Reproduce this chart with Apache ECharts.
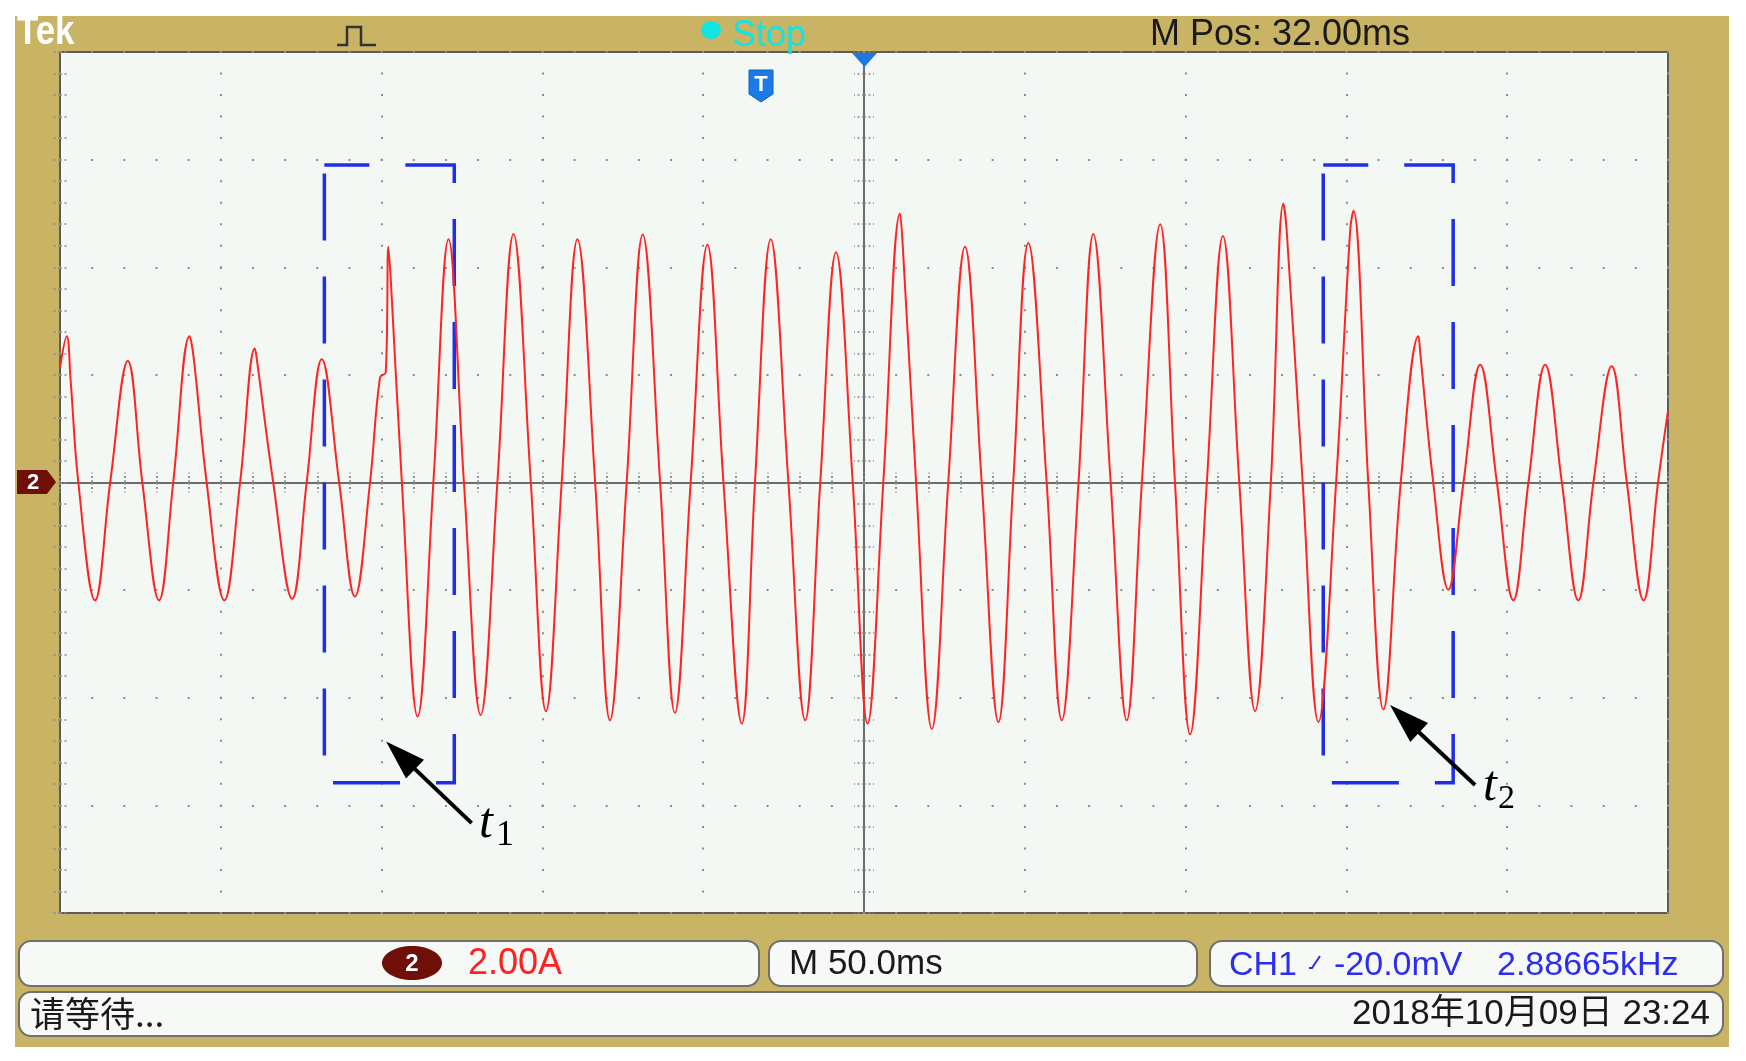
<!DOCTYPE html>
<html>
<head>
<meta charset="utf-8">
<script src="https://cdn.jsdelivr.net/npm/echarts@6.0.0/dist/echarts.min.js"></script>
<style>
html, body { margin: 0; padding: 0; background: #fff; }
#main { width: 1746px; height: 1061px; }
</style>
</head>
<body>
<div id="main"></div>
<script>
// CH2 current trace (x: ms from left edge, 50 ms/div; y: A, 2 A/div)
var timeMs = [0, 2.1, 3.3, 5.7, 10.9, 15.6, 21.1, 25.6, 30.8, 35.2,
    40.3, 41.6, 45.6, 51.1, 56.0, 60.6, 61.4, 66.3, 72.2, 76.7,
    81.4, 86.8, 91.7, 96.4, 99.5, 101.3, 102.1, 102.9, 106.3, 111.2,
    116.1, 120.8, 125.6, 130.8, 136.0, 141.0, 146.4, 151.1, 156.0, 160.9,
    166.4, 171.0, 176.2, 181.2, 186.6, 191.2, 196.1, 201.3, 206.3, 212.0,
    216.1, 221.0, 226.5, 231.7, 236.4, 241.3, 246.5, 251.1, 256.0, 261.2,
    262.0, 266.2, 271.1, 276.2, 281.4, 286.6, 291.8, 296.4, 301.1, 306.8,
    311.5, 316.7, 321.3, 326.7, 331.7, 336.4, 342.1, 346.7, 351.4, 356.6,
    361.6, 366.7, 371.6, 376.5, 380.4, 381.4, 386.4, 391.3, 396.8, 401.2,
    402.2, 406.8, 411.5, 416.9, 422.4, 423.0, 427.0, 431.7, 436.4, 441.6,
    446.8, 451.9, 456.6, 461.8, 467.0, 472.1, 476.8, 482.5, 487.2, 492.4,
    496.9, 500.0];
var currentA = [2.13, 2.72, 1.90, 0, -2.19, 0, 2.26, 0, -2.19, 0,
    2.72, 2.30, 0, -2.19, 0, 2.49, 2.20, 0, -2.16, 0,
    2.29, 0, -2.12, 0, 1.95, 2.05, 4.38, 3.72, 0, -4.35,
    0, 4.52, 0, -4.32, 0, 4.62, 0, -4.25, 0, 4.52,
    0, -4.42, 0, 4.61, 0, -4.28, 0, 4.42, 0, -4.48,
    0, 4.52, 0, -4.42, 0, 4.28, 0, -4.48, 0, 5.00,
    4.45, 0, -4.58, 0, 4.38, 0, -4.45, 0, 4.45, 0,
    -4.42, 0, 4.62, 0, -4.42, 0, 4.80, 0, -4.68, 0,
    4.58, 0, -4.25, 0, 5.18, 4.71, 0, -4.45, 0, 4.71,
    5.05, 0, -4.22, 0, 2.72, 2.39, 0, -1.99, 0, 2.19,
    0, -2.19, 0, 2.19, 0, -2.19, 0, 2.16, 0, -2.19,
    0, 1.33];

// dashed boxes around t1 / t2 (ms range, A range)
var boxTimeMs = [[82.2, 122.6], [392.8, 433.2]];
var boxCurrentA = [5.9, -5.58];
// arrows: tail -> head (ms, A)
var arrowTail = [[128.0, -6.33], [440.0, -5.62]];
var arrowHead = [[105.9, -5.07], [418.1, -4.39]];

var traceData = timeMs.map(function (t, i) { return [t, currentA[i]]; });

var myChart = echarts.init(document.getElementById('main'));

var dotColor = '#8d8d8d';
var sansFont = "'Liberation Sans', Arial, 'Noto Sans CJK SC', sans-serif";
var tickStyle = { color: '#8a8a8a', width: 1.5, type: [2, 2.5] };

function gridBox(extra) {
    var g = { left: 60, top: 52, width: 1608, height: 861, containLabel: false, outerBoundsMode: 'none' };
    for (var k in extra) g[k] = extra[k];
    return g;
}

function borderAxis(gridIndex, pos, min, max, interval, split) {
    return {
        type: 'value', gridIndex: gridIndex, position: pos,
        min: min, max: max, interval: interval,
        axisLine: { show: false },
        axisLabel: { show: false },
        axisTick: { show: true, inside: true, length: 9, lineStyle: tickStyle },
        minorTick: { show: true, splitNumber: 5, length: 9, lineStyle: tickStyle },
        splitLine: split ? { show: true, lineStyle: split } : { show: false },
        minorSplitLine: { show: false }
    };
}

function centerAxis(gridIndex, pos, min, max, interval, inside) {
    return {
        type: 'value', gridIndex: gridIndex, position: pos,
        min: min, max: max, interval: interval,
        axisLine: { show: true, onZero: true, lineStyle: { color: '#6b6b6b', width: 2 } },
        axisLabel: { show: false },
        axisTick: { show: true, inside: inside, length: 10, lineStyle: tickStyle },
        minorTick: { show: true, splitNumber: 5, length: 10, lineStyle: tickStyle },
        splitLine: { show: false }
    };
}

var option = {
    animation: false,
    backgroundColor: '#ffffff',
    grid: [
        gridBox({ show: true, backgroundColor: '#f4f8f5', borderColor: '#5c5c5c', borderWidth: 2 }),
        gridBox({}),
        gridBox({})
    ],
    xAxis: [
        borderAxis(0, 'bottom', 0, 500, 50, { color: dotColor, width: 2, type: [2, 19.525], dashOffset: 1 }),
        borderAxis(0, 'top', 0, 500, 50, null),
        centerAxis(1, 'bottom', -250, 250, 50, true),
        centerAxis(2, 'bottom', -250, 250, 50, false)
    ],
    yAxis: [
        borderAxis(0, 'left', -8, 8, 2, { color: dotColor, width: 2, type: [2, 30.16], dashOffset: 1 }),
        borderAxis(0, 'right', -8, 8, 2, null),
        centerAxis(1, 'left', -8, 8, 2, true),
        centerAxis(2, 'left', -8, 8, 2, false)
    ],
    series: [{
        type: 'line',
        xAxisIndex: 0,
        yAxisIndex: 0,
        data: traceData,
        showSymbol: false,
        smooth: 0.4,
        lineStyle: { color: '#ff2424', width: 2 },
        z: 5,
        silent: true,
        markArea: {
            silent: true,
            itemStyle: {
                color: 'rgba(0,0,0,0)',
                borderColor: '#1f2fe6',
                borderWidth: 3.5,
                borderType: [67, 36],
                borderDashOffset: 22
            },
            data: boxTimeMs.map(function (b) {
                return [{ coord: [b[0], boxCurrentA[0]] }, { coord: [b[1], boxCurrentA[1]] }];
            })
        },
        markLine: {
            silent: true,
            animation: false,
            symbol: ['none', 'triangle'],
            symbolSize: [26, 40],
            label: { show: false },
            lineStyle: { color: '#000', width: 4, type: 'solid' },
            data: arrowTail.map(function (p, i) {
                return [{ coord: p }, { coord: arrowHead[i] }];
            })
        }
    }],
    graphic: [
        // scope bezel
        { type: 'rect', z: -1, silent: true, shape: { x: 15, y: 16, width: 1714, height: 1031 },
          style: { fill: '#c9b466' } },
        // top bar
        { type: 'text', z: 100, x: 17, y: 33, scaleX: 0.87,
          style: { text: 'Tek', fill: '#ffffff', font: 'bold 40px ' + sansFont, verticalAlign: 'middle' } },
        { type: 'polyline', z: 100, shape: { points: [[337, 45], [347, 45], [347, 27], [361, 27], [361, 45], [376, 45]] },
          style: { stroke: '#333', lineWidth: 2.5, fill: null } },
        { type: 'ellipse', z: 100, shape: { cx: 711, cy: 30, rx: 10, ry: 9 }, style: { fill: '#12e4e4' } },
        { type: 'text', z: 100, x: 732, y: 36,
          style: { text: 'Stop', fill: '#12e4e4', font: '36px ' + sansFont, verticalAlign: 'middle' } },
        { type: 'text', z: 100, x: 1150, y: 35,
          style: { text: 'M Pos: 32.00ms', fill: '#1a1a1a', font: '36px ' + sansFont, verticalAlign: 'middle' } },
        // trigger markers
        { type: 'polygon', z: 100, shape: { points: [[852, 53], [877, 53], [864.5, 67]] }, style: { fill: '#1c7ae6' } },
        { type: 'polygon', z: 100, shape: { points: [[749, 70], [773, 70], [773, 94], [761, 102], [749, 94]] },
          style: { fill: '#1c7ae6', stroke: '#1560c0', lineWidth: 1 } },
        { type: 'text', z: 101, x: 761, y: 85,
          style: { text: 'T', fill: '#ffffff', font: 'bold 22px ' + sansFont, align: 'center', verticalAlign: 'middle' } },
        // channel 2 ground marker
        { type: 'polygon', z: 100, shape: { points: [[17, 470], [47, 470], [56, 482], [47, 494], [17, 494]] },
          style: { fill: '#6e1008' } },
        { type: 'text', z: 101, x: 33, y: 483,
          style: { text: '2', fill: '#ffffff', font: 'bold 22px ' + sansFont, align: 'center', verticalAlign: 'middle' } },
        // t1 / t2 labels
        { type: 'text', z: 100, x: 479, y: 824,
          style: { text: 't', fill: '#000', font: 'italic 50px "Liberation Serif", "Times New Roman", serif', verticalAlign: 'middle' } },
        { type: 'text', z: 100, x: 496, y: 836,
          style: { text: '1', fill: '#000', font: '36px "Liberation Serif", "Times New Roman", serif', verticalAlign: 'middle' } },
        { type: 'text', z: 100, x: 1483, y: 787,
          style: { text: 't', fill: '#000', font: 'italic 50px "Liberation Serif", "Times New Roman", serif', verticalAlign: 'middle' } },
        { type: 'text', z: 100, x: 1498, y: 799,
          style: { text: '2', fill: '#000', font: '34px "Liberation Serif", "Times New Roman", serif', verticalAlign: 'middle' } },
        // status boxes
        { type: 'rect', z: 100, shape: { x: 19, y: 941, width: 740, height: 45, r: 12 },
          style: { fill: '#f6f9f6', stroke: '#6f6f6f', lineWidth: 2 } },
        { type: 'rect', z: 100, shape: { x: 769, y: 941, width: 428, height: 45, r: 12 },
          style: { fill: '#f6f9f6', stroke: '#6f6f6f', lineWidth: 2 } },
        { type: 'rect', z: 100, shape: { x: 1210, y: 941, width: 513, height: 45, r: 12 },
          style: { fill: '#f6f9f6', stroke: '#6f6f6f', lineWidth: 2 } },
        { type: 'rect', z: 100, shape: { x: 19, y: 992, width: 1704, height: 44, r: 12 },
          style: { fill: '#f6f9f6', stroke: '#6f6f6f', lineWidth: 2 } },
        { type: 'ellipse', z: 101, shape: { cx: 412, cy: 963, rx: 30, ry: 17 }, style: { fill: '#6e1008' } },
        { type: 'text', z: 102, x: 412, y: 964,
          style: { text: '2', fill: '#ffffff', font: 'bold 24px ' + sansFont, align: 'center', verticalAlign: 'middle' } },
        { type: 'text', z: 101, x: 468, y: 964,
          style: { text: '2.00A', fill: '#ff2020', font: '36px ' + sansFont, verticalAlign: 'middle' } },
        { type: 'text', z: 101, x: 789, y: 964,
          style: { text: 'M 50.0ms', fill: '#1a1a1a', font: '35px ' + sansFont, verticalAlign: 'middle' } },
        { type: 'text', z: 101, x: 1229, y: 966,
          style: { text: 'CH1', fill: '#2d2df0', font: '34px ' + sansFont, verticalAlign: 'middle' } },
        { type: 'polyline', z: 101, shape: { points: [[1309, 968], [1312, 968], [1320, 956]] },
          style: { stroke: '#2d2df0', lineWidth: 2, fill: null } },
        { type: 'text', z: 101, x: 1334, y: 966,
          style: { text: '-20.0mV', fill: '#2d2df0', font: '34px ' + sansFont, verticalAlign: 'middle' } },
        { type: 'text', z: 101, x: 1497, y: 966,
          style: { text: '2.88665kHz', fill: '#2d2df0', font: '34px ' + sansFont, verticalAlign: 'middle' } },
        { type: 'text', z: 101, x: 30, y: 1014,
          style: { text: '请等待...', fill: '#1a1a1a', font: '35px "Noto Sans CJK SC", sans-serif', verticalAlign: 'middle' } },
        { type: 'text', z: 101, x: 1710, y: 1014,
          style: { text: '2018年10月09日 23:24', fill: '#1a1a1a', font: '35px ' + sansFont, align: 'right', verticalAlign: 'middle' } }
    ]
};

myChart.setOption(option);
window.addEventListener('resize', function () {
    myChart.resize();
});
</script>
</body>
</html>
